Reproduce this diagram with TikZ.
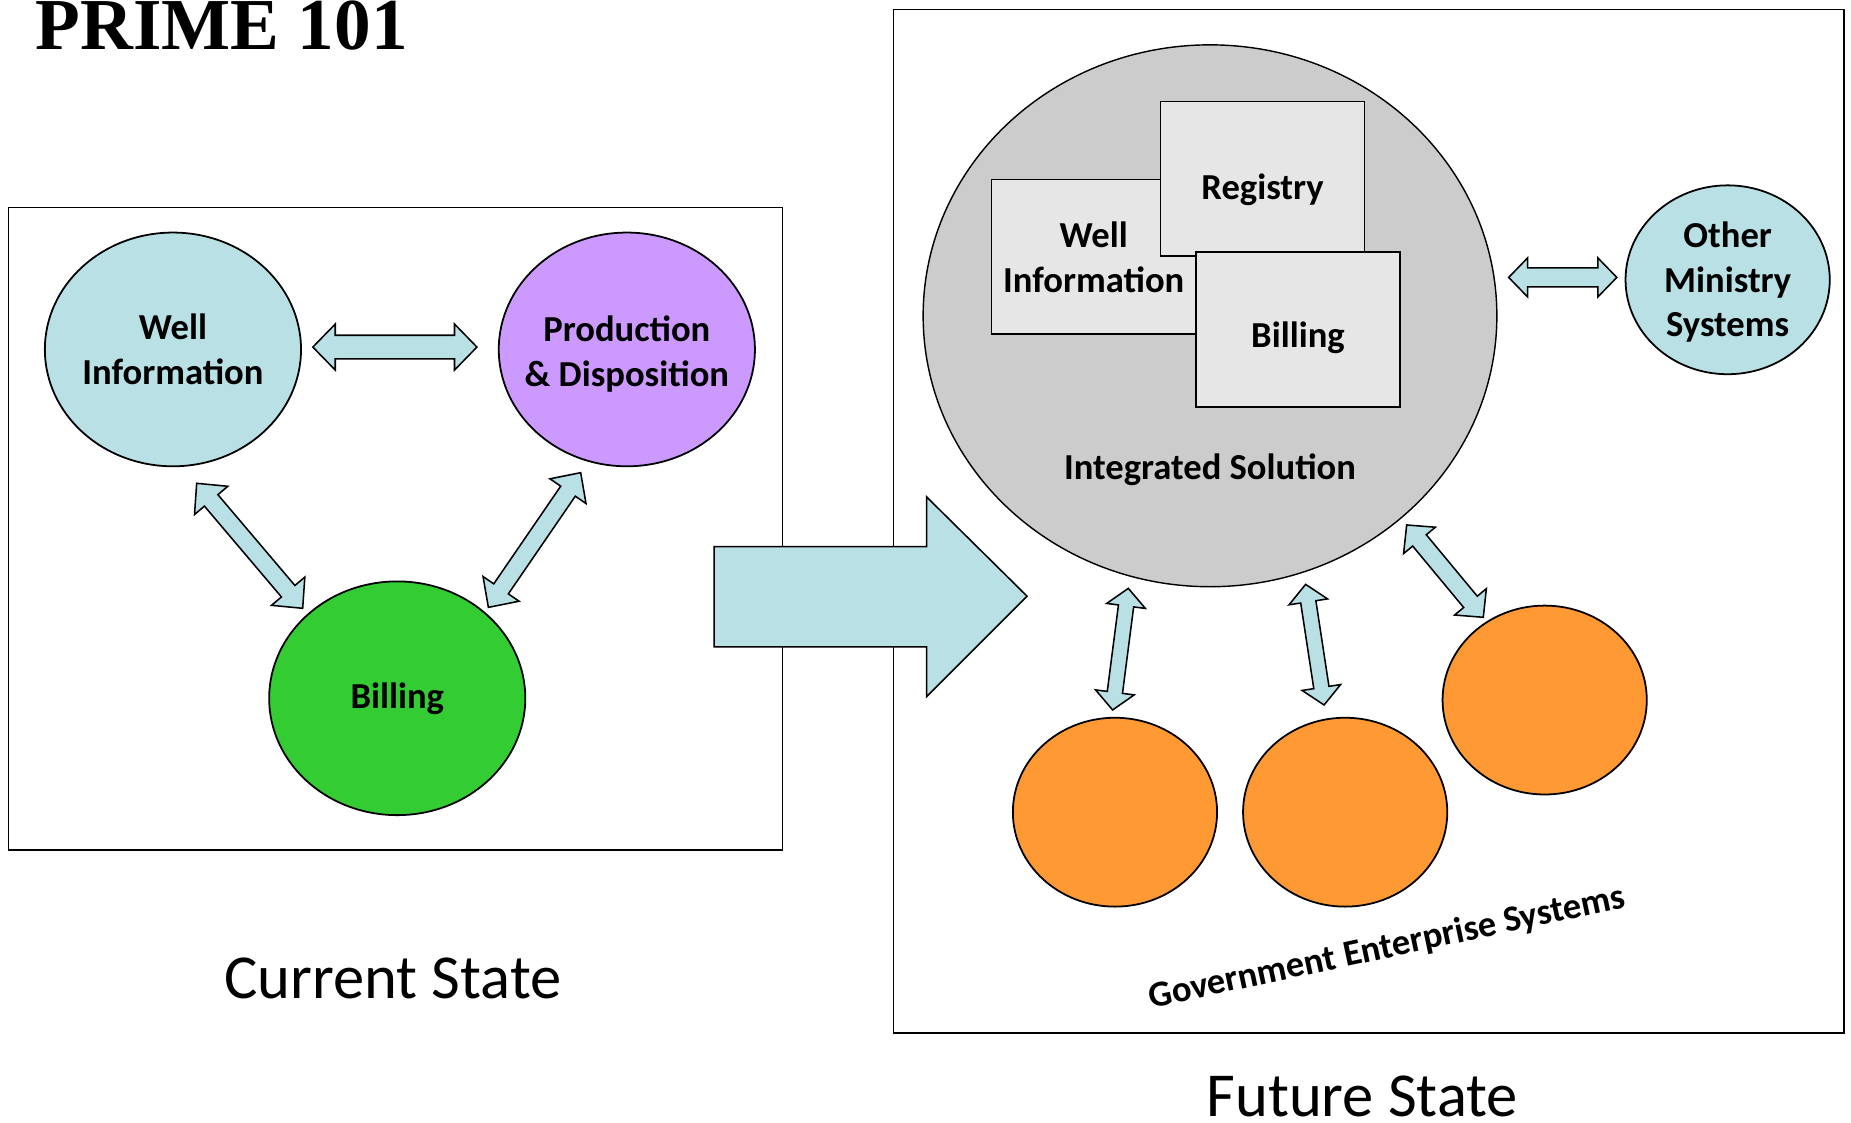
\documentclass[tikz,border=0pt]{standalone}
\usepackage{fontspec}
\setmainfont{Carlito}
\newfontfamily\titlefont{Liberation Serif}
\usetikzlibrary{shapes, positioning, calc}

\definecolor{aqua}{RGB}{185,224,228}
\definecolor{lilac}{RGB}{204,153,255}
\definecolor{leaf}{RGB}{51,204,51}
\definecolor{amber}{RGB}{255,153,51}
\definecolor{silver}{RGB}{204,204,204}
\definecolor{paper}{RGB}{230,230,230}

% block arrow with a head at both ends: ends, half shaft, half head, head length
\newcommand{\biarrow}[5]{%
  \draw[bi arrow] (#1)
    -- ($(#1)!#5!(#2)!#4!90:(#2)$) -- ($(#1)!#5!(#2)!#3!90:(#2)$)
    -- ($(#2)!#5!(#1)!#3!-90:(#1)$) -- ($(#2)!#5!(#1)!#4!-90:(#1)$)
    -- (#2)
    -- ($(#2)!#5!(#1)!#4!90:(#1)$) -- ($(#2)!#5!(#1)!#3!90:(#1)$)
    -- ($(#1)!#5!(#2)!#3!-90:(#2)$) -- ($(#1)!#5!(#2)!#4!-90:(#2)$)
    -- cycle;}

\begin{document}
\begin{tikzpicture}[x=1pt, y=-1pt, on grid, node distance=195pt,
    sys/.style={ellipse, draw, line width=1.5pt, minimum width=217pt, minimum height=198pt},
    small sys/.style={sys, minimum width=173pt, minimum height=160pt},
    every label/.style={align=center, font=\bfseries\fontsize{31}{38}\selectfont},
    module/.style={rectangle, draw, line width=1.4pt, fill=paper, minimum width=173pt,
      minimum height=131pt, align=center, text depth=0pt,
      font=\bfseries\fontsize{31}{38}\selectfont},
    frame/.style={draw, line width=1.2pt},
    bi arrow/.style={draw, line width=1.3pt, fill=aqua, line join=miter},
    state label/.style={anchor=base, font=\fontsize{53}{64}\selectfont}]

  \useasboundingbox (0,0) rectangle (1568,951);

  % frames and title
  \draw[frame] (7,176) rectangle (663,720);
  \draw[frame] (757,8) rectangle (1562,875);
  \node[anchor=base west, inner sep=0, font=\titlefont\bfseries\fontsize{62}{70}\selectfont]
    (title) at (30,42) {PRIME 101};

  % current state
  \node[sys, fill=aqua, label=center:Well\\Information] (well_info) at (146.5,296) {};
  \node[sys, fill=lilac, label={[yshift=-4pt]center:Production\\\& Disposition}]
    [right=384.5pt of well_info] (prod_disp) {};
  \node[sys, fill=leaf, label=center:Billing] (billing) at (336.5,591.5) {};
  \node[state label] (cur_txt) at (333,846) {Current State};

  \coordinate (wp_a) at (265,294);     \coordinate (wp_b) at (404,294);
  \coordinate (wb_a) at (166.6,409.4); \coordinate (wb_b) at (256.4,515.3);
  \coordinate (pb_a) at (491.9,400.4); \coordinate (pb_b) at (413.7,514.5);
  \biarrow{wp_a}{wp_b}{10pt}{19.5pt}{19pt}
  \biarrow{wb_a}{wb_b}{7.5pt}{18.5pt}{19pt}
  \biarrow{pb_a}{pb_b}{7.5pt}{18.5pt}{19pt}

  % transition
  \draw[bi arrow] (605,463) -- (785,463) -- (785,421) -- (870,505)
    -- (785,590) -- (785,548) -- (605,548) -- cycle;

  % future state
  \node[sys, fill=silver, line width=1.2pt, minimum width=486pt, minimum height=459pt]
    (integ) at (1025,267.5) {};
  \node[module] (well_box) at (926.5,217.5) {Well\\Information};
  \node[module, text height=35pt] (reg_box)  at (1069.5,151.5) {Registry};
  \node[module, text height=31pt] (bill_box) at (1099.5,279)   {Billing};
  \node[font=\bfseries\fontsize{31}{38}\selectfont] [below=130.5pt of integ] (integ_txt)
    {Integrated Solution};

  \node[small sys, fill=aqua, label={[yshift=-2pt]center:Other\\Ministry\\Systems}]
    (other_sys) at (1463.5,237) {};
  \node[small sys, fill=amber] (gov_a) at (944.5,688) {};
  \node[small sys, fill=amber] [right=of gov_a] (gov_b) {};
  \node[small sys, fill=amber] (gov_c) at (1308.5,593) {};
  \node[font=\bfseries\fontsize{31}{37}\selectfont, rotate=12] (gov_txt) at (1175,803)
    {Government Enterprise Systems};
  \node[state label] (fut_txt) at (1154,946) {Future State};

  \coordinate (io_a) at (1278,235);     \coordinate (io_b) at (1369.6,235);
  \coordinate (ga_a) at (955.8,498.4);  \coordinate (ga_b) at (942.5,601.4);
  \coordinate (gb_a) at (1106,495);     \coordinate (gb_b) at (1121.6,597.2);
  \coordinate (gc_a) at (1191.6,444.7); \coordinate (gc_b) at (1256.5,522.9);
  \biarrow{io_a}{io_b}{8pt}{16.5pt}{16pt}
  \biarrow{ga_a}{ga_b}{6.5pt}{16.5pt}{15pt}
  \biarrow{gb_a}{gb_b}{6.5pt}{16.5pt}{15pt}
  \biarrow{gc_a}{gc_b}{7.5pt}{17.5pt}{17pt}
\end{tikzpicture}
\end{document}
